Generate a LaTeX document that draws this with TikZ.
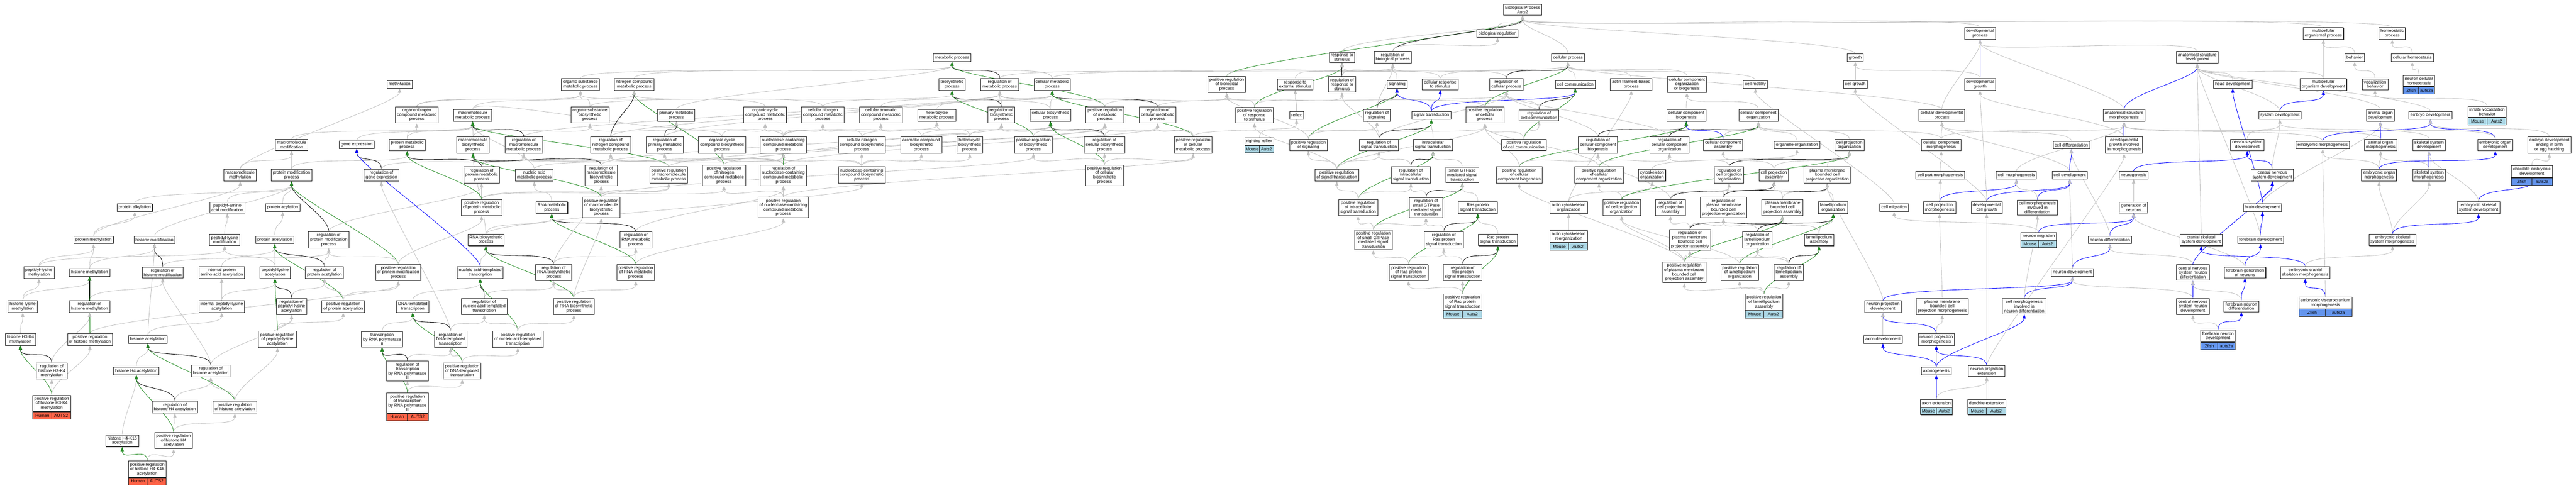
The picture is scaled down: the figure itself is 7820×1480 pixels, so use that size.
\documentclass[tikz,border=0pt]{standalone}
\usepackage{fontspec}
\newfontfamily\termfont{Liberation Sans}
\usepackage{tikz}
\usetikzlibrary{arrows.meta,shadows,backgrounds,calc}
\definecolor{isagray}{HTML}{C0C0C0}
\definecolor{posgreen}{HTML}{228B22}
\definecolor{partblue}{HTML}{0000FF}
\definecolor{human}{HTML}{FF6347}
\definecolor{mouse}{HTML}{ADD8E6}
\definecolor{zfish}{HTML}{6495ED}
\tikzset{term/.style={draw=black!85, fill=white, line width=1.3pt, align=center,
    font=\termfont\fontsize{13}{13.5}\selectfont, inner xsep=5pt, inner ysep=5pt,
    minimum height=23pt,
    drop shadow={shadow xshift=1pt, shadow yshift=-1pt, fill=black!70, opacity=1}},
  tagcell/.style={term, inner sep=0pt, minimum height=22pt},
  link/.style={line width=1.3pt, -{Triangle[length=13pt,width=10pt]},
    to path={.. controls ($(\tikztostart.north)+(0,-45)$) and ($(\tikztotarget.south)+(0,45)$) .. (\tikztotarget.south)}},
  isa/.style={link, draw=isagray},
  reg/.style={link, draw=black},
  posreg/.style={link, draw=posgreen},
  partof/.style={link, draw=partblue}}
% species / gene row under an annotated term
\newcommand\genetag[4]{%
  \path let \p1=(#1.south west), \p2=(#1.south east) in
    node[tagcell, fill=#4, minimum width={(\x2-\x1)/2}, anchor=north west] (#1-sp) at (\p1) {#2}
    node[tagcell, fill=#4, minimum width={(\x2-\x1)/2}, anchor=north east] (#1-gn) at (\p2) {#3};}

\begin{document}
\begin{tikzpicture}[x=1pt, y=-1pt]
\useasboundingbox (0,0) rectangle (7820,1480);
% top ranks
\node[term] (bp) at (4622,30) {Biological Process\\Auts2};
\node[term] (bioreg) at (4546,102) {biological regulation};
\node[term] (devproc) at (6011,101) {developmental\\process};
\node[term] (mcop) at (7053,101) {multicellular\\organismal process};
\node[term] (homeo) at (7262,101) {homeostatic\\process};
\node[term] (metab) at (2890,175) {metabolic process};
\node[term] (respstim) at (4074,174) {response to\\stimulus};
\node[term] (regbio) at (4228,174) {regulation of\\biological process};
\node[term] (cellproc) at (4760,175) {cellular process};
\node[term] (growth) at (5632,175) {growth};
\node[term] (asdev) at (6670,174) {anatomical structure\\development};
\node[term] (behav) at (7148,175) {behavior};
\node[term] (cellhomeo) at (7323,175) {cellular homeostasis};
% rank 256
\node[term] (methyl) at (1213,256) {methylation};
\node[term] (orgsubmet) at (1762,256) {organic substance\\metabolic process};
\node[term] (nitromet) at (1925,256) {nitrogen compound\\metabolic process};
\node[term] (biosyn) at (2890,256) {biosynthetic\\process};
\node[term] (regmet) at (3035,256) {regulation of\\metabolic process};
\node[term] (cellmet) at (3194,256) {cellular metabolic\\process};
\node[term] (posregbio) at (3724,256) {positive regulation\\of biological\\process};
\node[term] (respext) at (3932,256) {response to\\external stimulus};
\node[term] (regresp) at (4074,256) {regulation of\\response to\\stimulus};
\node[term] (signaling) at (4241,256) {signaling};
\node[term] (cellresp) at (4372,256) {cellular response\\to stimulus};
\node[term] (regcellproc) at (4573,256) {regulation of\\cellular process};
\node[term] (cellcomm) at (4782,256) {cell communication};
\node[term] (actinfil) at (4952,256) {actin filament-based\\process};
\node[term] (ccob) at (5121,256) {cellular component\\organization\\or biogenesis};
\node[term] (cellmot) at (5329,256) {cell motility};
\node[term] (cellgrowth) at (5632,256) {cell growth};
\node[term] (devgrowth) at (6011,256) {developmental\\growth};
\node[term] (headdev) at (6778,256) {head development};
\node[term] (mcodev) at (7053,256) {multicellular\\organism development};
\node[term] (vocal) at (7210,256) {vocalization\\behavior};
\node[term] (nch) at (7343,246) {neuron cellular\\homeostasis};
\genetag{nch}{Zfish}{auts2a}{zfish}
% rank 350
\node[term] (orgnitro) at (1265,349) {organonitrogen\\compound metabolic\\process};
\node[term] (macromet) at (1435,350) {macromolecule\\metabolic process};
\node[term] (orgsubbio) at (1791,349) {organic substance\\biosynthetic\\process};
\node[term] (primet) at (2053,350) {primary metabolic\\process};
\node[term] (occmet) at (2323,349) {organic cyclic\\compound metabolic\\process};
\node[term] (cnitromet) at (2498,349) {cellular nitrogen\\compound metabolic\\process};
\node[term] (caromet) at (2674,349) {cellular aromatic\\compound metabolic\\process};
\node[term] (hetmet) at (2844,350) {heterocycle\\metabolic process};
\node[term] (regbiosyn) at (3040,349) {regulation of\\biosynthetic\\process};
\node[term] (cellbiosyn) at (3189,350) {cellular biosynthetic\\process};
\node[term] (posregmet) at (3354,349) {positive regulation\\of metabolic\\process};
\node[term] (regcellmet) at (3514,349) {regulation of\\cellular metabolic\\process};
\node[term] (posregresp) at (3808,349) {positive regulation\\of response\\to stimulus};
\node[term] (reflex) at (3936,350) {reflex};
\node[term] (regsig) at (4180,350) {regulation of\\signaling};
\node[term] (sigtrans) at (4345,350) {signal transduction};
\node[term] (posregcellproc) at (4508,349) {positive regulation\\of cellular\\process};
\node[term] (regcellcomm) at (4672,350) {regulation of\\cell communication};
\node[term] (ccbio) at (5119,350) {cellular component\\biogenesis};
\node[term] (cco) at (5338,350) {cellular component\\organization};
\node[term] (celldev) at (5895,350) {cellular developmental\\process};
\node[term] (asmorph) at (6448,350) {anatomical structure\\morphogenesis};
\node[term] (sysdev) at (6921,350) {system development};
\node[term] (aodev) at (7226,350) {animal organ\\development};
\node[term] (embdev) at (7378,350) {embryo development};
\node[term] (ivb) at (7550,339) {innate vocalization\\behavior};
\genetag{ivb}{Mouse}{Auts2}{mouse}
% rank 440
\node[term] (macromod) at (885,440) {macromolecule\\modification};
\node[term] (geneexp) at (1083,439) {gene expression};
\node[term] (protmet) at (1236,440) {protein metabolic\\process};
\node[term] (macrobio) at (1436,440) {macromolecule\\biosynthetic\\process};
\node[term] (regmacromet) at (1590,440) {regulation of\\macromolecule\\metabolic process};
\node[term] (regnitromet) at (1854,440) {regulation of\\nitrogen compound\\metabolic process};
\node[term] (regprimet) at (2018,440) {regulation of\\primary metabolic\\process};
\node[term] (occbio) at (2192,440) {organic cyclic\\compound biosynthetic\\process};
\node[term] (nbcmet) at (2378,440) {nucleobase-containing\\compound metabolic\\process};
\node[term] (cnitrobio) at (2616,440) {cellular nitrogen\\compound biosynthetic\\process};
\node[term] (arombio) at (2797,440) {aromatic compound\\biosynthetic\\process};
\node[term] (hetbio) at (2944,440) {heterocycle\\biosynthetic\\process};
\node[term] (posregbiosyn) at (3137,440) {positive regulation\\of biosynthetic\\process};
\node[term] (regcellbio) at (3353,440) {regulation of\\cellular biosynthetic\\process};
\node[term] (posregcellmet) at (3622,440) {positive regulation\\of cellular\\metabolic process};
\node[term] (rr) at (3823,429) {righting reflex};
\genetag{rr}{Mouse}{Auts2}{mouse}
\node[term] (posregsig) at (3972,440) {positive regulation\\of signaling};
\node[term] (regst) at (4186,440) {regulation of\\signal transduction};
\node[term] (ist) at (4350,440) {intracellular\\signal transduction};
\node[term] (posregcellcomm) at (4626,440) {positive regulation\\of cell communication};
\node[term] (regccb) at (4851,440) {regulation of\\cellular component\\biogenesis};
\node[term] (regcco) at (5068,440) {regulation of\\cellular component\\organization};
\node[term] (cca) at (5231,440) {cellular component\\assembly};
\node[term] (organelle) at (5455,440) {organelle organization};
\node[term] (cpo) at (5614,440) {cell projection\\organization};
\node[term] (ccmorph) at (5893,440) {cellular component\\morphogenesis};
\node[term] (celldiff) at (6288,440) {cell differentiation};
\node[term] (dgim) at (6448,440) {developmental\\growth involved\\in morphogenesis};
\node[term] (nsdev) at (6822,440) {nervous system\\development};
\node[term] (embmorph) at (7051,440) {embryonic morphogenesis};
\node[term] (aomorph) at (7227,440) {animal organ\\morphogenesis};
\node[term] (skeldev) at (7374,440) {skeletal system\\development};
\node[term] (eodev) at (7575,440) {embryonic organ\\development};
\node[term] (edeb) at (7739,440) {embryo development\\ending in birth\\or egg hatching};
% rank 532
\node[term] (macromethyl) at (729,532) {macromolecule\\methylation};
\node[term] (protmod) at (885,532) {protein modification\\process};
\node[term] (reggeneexp) at (1158,532) {regulation of\\gene expression};
\node[term] (regprotmet) at (1462,531) {regulation of\\protein metabolic\\process};
\node[term] (nucmet) at (1622,532) {nucleic acid\\metabolic process};
\node[term] (regmacrobio) at (1825,532) {regulation of\\macromolecule\\biosynthetic\\process};
\node[term] (posregmacromet) at (2030,531) {positive regulation\\of macromolecule\\metabolic process};
\node[term] (posregnitromet) at (2198,532) {positive regulation\\of nitrogen\\compound metabolic\\process};
\node[term] (regnbcmet) at (2378,532) {regulation of\\nucleobase-containing\\compound metabolic\\process};
\node[term] (nbcbio) at (2616,531) {nucleobase-containing\\compound biosynthetic\\process};
\node[term] (posregcellbio) at (3353,532) {positive regulation\\of cellular\\biosynthetic\\process};
\node[term] (posregst) at (4058,532) {positive regulation\\of signal transduction};
\node[term] (regist) at (4283,531) {regulation of\\intracellular\\signal transduction};
\node[term] (sgtpase) at (4439,531) {small GTPase\\mediated signal\\transduction};
\node[term] (posregccb) at (4612,531) {positive regulation\\of cellular\\component biogenesis};
\node[term] (posregcco) at (4854,531) {positive regulation\\of cellular\\component organization};
\node[term] (cytoorg) at (5015,532) {cytoskeleton\\organization};
\node[term] (regcpo) at (5249,531) {regulation of\\cell projection\\organization};
\node[term] (cpa) at (5385,532) {cell projection\\assembly};
\node[term] (pmbcpo) at (5547,531) {plasma membrane\\bounded cell\\projection organization};
\node[term] (cpm) at (5890,532) {cell part morphogenesis};
\node[term] (cellmorph) at (6121,532) {cell morphogenesis};
\node[term] (celldevt) at (6283,532) {cell development};
\node[term] (neurogen) at (6477,532) {neurogenesis};
\node[term] (cnsdev) at (6898,532) {central nervous\\system development};
\node[term] (eomorph) at (7222,532) {embryonic organ\\morphogenesis};
\node[term] (skelmorph) at (7374,532) {skeletal system\\morphogenesis};
\node[term] (ced) at (7686,521) {chordate embryonic\\development};
\genetag{ced}{Zfish}{auts2a}{zfish}
% rank 630
\node[term] (protalk) at (409,630) {protein alkylation};
\node[term] (pepaa) at (690,630) {peptidyl-amino\\acid modification};
\node[term] (protacyl) at (858,630) {protein acylation};
\node[term] (posregprotmet) at (1462,630) {positive regulation\\of protein metabolic\\process};
\node[term] (rnamet) at (1675,630) {RNA metabolic\\process};
\node[term] (posregmacrobio) at (1825,630) {positive regulation\\of macromolecule\\biosynthetic\\process};
\node[term] (posregnbcmet) at (2378,630) {positive regulation\\of nucleobase-containing\\compound metabolic\\process};
\node[term] (posregist) at (4123,630) {positive regulation\\of intracellular\\signal transduction};
\node[term] (regsgtpase) at (4329,630) {regulation of\\small GTPase\\mediated signal\\transduction};
\node[term] (ras) at (4486,630) {Ras protein\\signal transduction};
\node[term] (actinorg) at (4762,630) {actin cytoskeleton\\organization};
\node[term] (posregcpo) at (4923,630) {positive regulation\\of cell projection\\organization};
\node[term] (regcpa) at (5071,630) {regulation of\\cell projection\\assembly};
\node[term] (regpmbcpo) at (5232,630) {regulation of\\plasma membrane\\bounded cell\\projection organization};
\node[term] (pmbcpa) at (5411,630) {plasma membrane\\bounded cell\\projection assembly};
\node[term] (lamorg) at (5565,630) {lamellipodium\\organization};
\node[term] (cellmig) at (5750,630) {cell migration};
\node[term] (cpmorph) at (5888,630) {cell projection\\morphogenesis};
\node[term] (devcellgrowth) at (6031,630) {developmental\\cell growth};
\node[term] (cmid) at (6185,630) {cell morphogenesis\\involved in\\differentiation};
\node[term] (genneur) at (6477,630) {generation of\\neurons};
\node[term] (braindev) at (6868,630) {brain development};
\node[term] (essdev) at (7524,630) {embryonic skeletal\\system development};
% rank 728
\node[term] (protmethyl) at (284,728) {protein methylation};
\node[term] (histmod) at (469,728) {histone modification};
\node[term] (peplysmod) at (682,728) {peptidyl-lysine\\modification};
\node[term] (protacet) at (834,728) {protein acetylation};
\node[term] (regprotmod) at (998,728) {regulation of\\protein modification\\process};
\node[term] (rnabio) at (1475,728) {RNA biosynthetic\\process};
\node[term] (regrnamet) at (1930,728) {regulation of\\RNA metabolic\\process};
\node[term] (posregsgtpase) at (4169,728) {positive regulation\\of small GTPase\\mediated signal\\transduction};
\node[term] (regras) at (4383,728) {regulation of\\Ras protein\\signal transduction};
\node[term] (rac) at (4547,728) {Rac protein\\signal transduction};
\node[term] (acr) at (4762,718) {actin cytoskeleton\\reorganization};
\genetag{acr}{Mouse}{Auts2}{mouse}
\node[term] (regpmbcpa) at (5130,728) {regulation of\\plasma membrane\\bounded cell\\projection assembly};
\node[term] (reglamorg) at (5335,728) {regulation of\\lamellipodium\\organization};
\node[term] (lamasm) at (5522,728) {lamellipodium\\assembly};
\node[term] (neurmig) at (6189,717) {neuron migration};
\genetag{neurmig}{Mouse}{Auts2}{mouse}
\node[term] (neurdiff) at (6405,728) {neuron differentiation};
\node[term] (cssd) at (6682,728) {cranial skeletal\\system development};
\node[term] (forebrain) at (6862,728) {forebrain development};
\node[term] (essm) at (7263,728) {embryonic skeletal\\system morphogenesis};
% rank 827
\node[term] (peplysmethyl) at (118,827) {peptidyl-lysine\\methylation};
\node[term] (histmethyl) at (272,827) {histone methylation};
\node[term] (reghistmod) at (494,827) {regulation of\\histone modification};
\node[term] (ipaaa) at (673,827) {internal protein\\amino acid acetylation};
\node[term] (peplysacet) at (835,827) {peptidyl-lysine\\acetylation};
\node[term] (regprotacet) at (985,827) {regulation of\\protein acetylation};
\node[term] (posregprotmod) at (1209,827) {positive regulation\\of protein modification\\process};
\node[term] (nat) at (1458,827) {nucleic acid-templated\\transcription};
\node[term] (regrnabio) at (1681,827) {regulation of\\RNA biosynthetic\\process};
\node[term] (posregrnamet) at (1930,827) {positive regulation\\of RNA metabolic\\process};
\node[term] (posregras) at (4276,827) {positive regulation\\of Ras protein\\signal transduction};
\node[term] (regrac) at (4440,827) {regulation of\\Rac protein\\signal transduction};
\node[term] (posregpmbcpa) at (5113,827) {positive regulation\\of plasma membrane\\bounded cell\\projection assembly};
\node[term] (posreglamorg) at (5281,827) {positive regulation\\of lamellipodium\\organization};
\node[term] (reglamasm) at (5430,827) {regulation of\\lamellipodium\\assembly};
\node[term] (neurdev) at (6291,827) {neuron development};
\node[term] (cnsnd) at (6657,827) {central nervous\\system neuron\\differentiation};
\node[term] (fgn) at (6815,827) {forebrain generation\\of neurons};
\node[term] (ecsm) at (6998,827) {embryonic cranial\\skeleton morphogenesis};
% rank 930
\node[term] (histlysmethyl) at (69,930) {histone lysine\\methylation};
\node[term] (reghistmethyl) at (272,930) {regulation of\\histone methylation};
\node[term] (iplacet) at (673,930) {internal peptidyl-lysine\\acetylation};
\node[term] (regpeplysacet) at (885,930) {regulation of\\peptidyl-lysine\\acetylation};
\node[term] (posregprotacet) at (1042,930) {positive regulation\\of protein acetylation};
\node[term] (dnatt) at (1253,930) {DNA-templated\\transcription};
\node[term] (regnat) at (1470,930) {regulation of\\nucleic acid-templated\\transcription};
\node[term] (posregrnabio) at (1742,930) {positive regulation\\of RNA biosynthetic\\process};
\node[term] (posregrac) at (4440,917) {positive regulation\\of Rac protein\\signal transduction};
\genetag{posregrac}{Mouse}{Auts2}{mouse}
\node[term] (posreglamasm) at (5355,917) {positive regulation\\of lamellipodium\\assembly};
\genetag{posreglamasm}{Mouse}{Auts2}{mouse}
\node[term] (npd) at (5716,930) {neuron projection\\development};
\node[term] (pmbcpm) at (5896,930) {plasma membrane\\bounded cell\\projection morphogenesis};
\node[term] (cmind) at (6145,930) {cell morphogenesis\\involved in\\neuron differentiation};
\node[term] (cnsndev) at (6657,930) {central nervous\\system neuron\\development};
\node[term] (fnd) at (6804,930) {forebrain neuron\\differentiation};
\node[term] (evm) at (7059,919) {embryonic viscerocranium\\morphogenesis};
\genetag{evm}{Zfish}{auts2a}{zfish}
% rank 1030
\node[term] (h3k4) at (62,1030) {histone H3-K4\\methylation};
\node[term] (posreghistmethyl) at (273,1030) {positive regulation\\of histone methylation};
\node[term] (histacet) at (449,1030) {histone acetylation};
\node[term] (posregpeplysacet) at (842,1030) {positive regulation\\of peptidyl-lysine\\acetylation};
\node[term] (trnap) at (1160,1030) {transcription\\by RNA polymerase\\II};
\node[term] (regdnatt) at (1368,1030) {regulation of\\DNA-templated\\transcription};
\node[term] (posregnat) at (1572,1030) {positive regulation\\of nucleic acid-templated\\transcription};
\node[term] (axondev) at (5716,1030) {axon development};
\node[term] (npm) at (5878,1030) {neuron projection\\morphogenesis};
\node[term] (fndev) at (6733,1020) {forebrain neuron\\development};
\genetag{fndev}{Zfish}{auts2a}{zfish}
% rank 1126
\node[term] (reghk4) at (157,1126) {regulation of\\histone H3-K4\\methylation};
\node[term] (h4acet) at (414,1126) {histone H4 acetylation};
\node[term] (reghistacet) at (640,1126) {regulation of\\histone acetylation};
\node[term] (regtrnap) at (1237,1126) {regulation of\\transcription\\by RNA polymerase\\II};
\node[term] (posregdnatt) at (1403,1126) {positive regulation\\of DNA-templated\\transcription};
\node[term] (axonogen) at (5878,1126) {axonogenesis};
\node[term] (npe) at (6031,1126) {neuron projection\\extension};
% rank 1236 and below
\node[term] (posreghk4) at (157,1224) {positive regulation\\of histone H3-K4\\methylation};
\genetag{posreghk4}{Human}{AUTS2}{human}
\node[term] (regh4acet) at (531,1236) {regulation of\\histone H4 acetylation};
\node[term] (posreghistacet) at (713,1236) {positive regulation\\of histone acetylation};
\node[term] (posregtrnap) at (1237,1223) {positive regulation\\of transcription\\by RNA polymerase\\II};
\genetag{posregtrnap}{Human}{AUTS2}{human}
\node[term] (axonext) at (5878,1224) {axon extension};
\genetag{axonext}{Mouse}{Auts2}{mouse}
\node[term] (dendext) at (6031,1224) {dendrite extension};
\genetag{dendext}{Mouse}{Auts2}{mouse}
\node[term] (h4k16) at (371,1338) {histone H4-K16\\acetylation};
\node[term] (posregh4acet) at (527,1337) {positive regulation\\of histone H4\\acetylation};
\node[term] (posregh4k16) at (447,1424) {positive regulation\\of histone H4-K16\\acetylation};
\genetag{posregh4k16}{Human}{AUTS2}{human}

\begin{scope}[on background layer]
% histone terms
\path (protmethyl) edge[isa] (protalk) edge[isa] (macromethyl);
\path (histmod) edge[isa] (protmod);
\path (peplysmethyl) edge[isa] (protmethyl) edge[isa] (peplysmod);
\path (histmethyl) edge[isa] (protmethyl) edge[isa] (histmod);
\path (reghistmod) edge[reg] (histmod) edge[isa] (regprotmod);
\path (histlysmethyl) edge[isa] (peplysmethyl) edge[isa] (histmethyl);
\path (reghistmethyl) edge[reg, line width=2.5pt] (histmethyl) edge[isa] (reghistmod);
\path (h3k4) edge[isa] (histlysmethyl);
\path (posreghistmethyl) edge[isa] (reghistmethyl) edge[posreg] (histmethyl) edge[isa] (posregprotmod);
\path (histacet) edge[isa] (histmod) edge[isa] (iplacet);
\path (reghk4) edge[reg] (h3k4) edge[isa] (reghistmethyl);
\path (h4acet) edge[isa] (histacet);
\path (reghistacet) edge[reg] (histacet) edge[isa] (reghistmod) edge[isa] (regpeplysacet);
\path (posreghk4) edge[isa] (reghk4) edge[posreg] (h3k4) edge[isa] (posreghistmethyl);
\path (regh4acet) edge[reg] (h4acet) edge[isa] (reghistacet);
\path (posreghistacet) edge[posreg] (histacet) edge[isa] (reghistacet) edge[isa] (posregpeplysacet);
\path (h4k16) edge[isa] (h4acet);
\path (posregh4acet) edge[isa] (regh4acet) edge[posreg] (h4acet) edge[isa] (posreghistacet);
\path (posregh4k16) edge[posreg] (h4k16) edge[isa] (posregh4acet);
% protein terms
\path (macromethyl) edge[isa] (methyl) edge[isa] (macromod);
\path (protmod) edge[isa] (macromod) edge[isa] (protmet);
\path (macromod) edge[isa] (macromet);
\path (pepaa) edge[isa] (protmod);
\path (protalk) edge[isa] (protmod);
\path (protacyl) edge[isa] (protmod);
\path (peplysmod) edge[isa] (pepaa);
\path (protacet) edge[isa] (protacyl);
\path (regprotmod) edge[reg] (protmod) edge[isa] (regprotmet);
\path (posregprotmod) edge[posreg] (protmod) edge[isa] (regprotmod) edge[isa] (posregprotmet);
\path (ipaaa) edge[isa] (protacet);
\path (peplysacet) edge[isa] (protacet) edge[isa] (peplysmod);
\path (regprotacet) edge[reg] (protacet) edge[isa] (regprotmod);
\path (iplacet) edge[isa] (ipaaa) edge[isa] (peplysacet);
\path (regpeplysacet) edge[reg] (peplysacet) edge[isa] (regprotacet);
\path (posregprotacet) edge[posreg] (protacet) edge[isa] (regprotacet) edge[isa] (posregprotmod);
\path (posregpeplysacet) edge[isa] (regpeplysacet) edge[posreg] (peplysacet) edge[isa] (posregprotacet);
\path (geneexp) edge[isa] (macromet);
\path (reggeneexp) edge[reg] (geneexp) edge[isa] (regmacromet);
\path (protmet) edge[isa] (orgnitro) edge[isa] (macromet);
\path (orgnitro) edge[isa] (orgsubmet) edge[isa] (nitromet);
% transcription terms
\path (dnatt) edge[isa] (nat);
\path (trnap) edge[isa] (dnatt);
\path (regtrnap) edge[reg] (trnap) edge[isa] (regdnatt);
\path (posregtrnap) edge[isa] (regtrnap) edge[posreg] (trnap) edge[isa] (posregdnatt);
\path (regdnatt) edge[reg] (dnatt) edge[isa] (regnat) edge[isa] (reggeneexp);
\path (posregdnatt) edge[isa] (regdnatt) edge[posreg] (dnatt) edge[isa] (posregnat);
\path (nat) edge[isa] (rnabio) edge[partof] (geneexp);
\path (regnat) edge[reg] (nat) edge[isa] (regrnabio);
\path (posregnat) edge[posreg] (nat) edge[isa] (regnat) edge[isa] (posregrnabio);
\path (rnabio) edge[isa] (rnamet) edge[isa] (macrobio) edge[isa] (nbcbio);
\path (regrnabio) edge[reg] (rnabio) edge[isa] (regrnamet) edge[isa] (regmacrobio);
\path (posregrnabio) edge[posreg] (rnabio) edge[isa] (regrnabio) edge[isa] (posregmacrobio) edge[isa] (posregrnamet);
\path (rnamet) edge[isa] (nucmet);
\path (regrnamet) edge[reg] (rnamet) edge[isa] (regnbcmet);
\path (posregrnamet) edge[posreg] (rnamet) edge[isa] (regrnamet) edge[isa] (posregnbcmet);
\path (nucmet) edge[isa] (nbcmet) edge[isa] (macromet);
% metabolic terms
\path (macromet) edge[isa] (orgsubmet) edge[isa] (primet);
\path (macrobio) edge[isa] (macromet) edge[isa] (orgsubbio);
\path (orgsubbio) edge[isa] (orgsubmet) edge[isa] (biosyn);
\path (orgsubmet) edge[isa] (metab);
\path (nitromet) edge[isa] (metab);
\path (primet) edge[isa] (metab);
\path (regmacromet) edge[reg] (macromet) edge[isa] (regmet);
\path (regnitromet) edge[reg] (nitromet) edge[isa] (regmet);
\path (regprimet) edge[reg] (primet) edge[isa] (regmet);
\path (regprotmet) edge[reg] (protmet) edge[isa] (regmacromet) edge[isa] (regnitromet);
\path (posregprotmet) edge[isa] (regprotmet) edge[posreg] (protmet) edge[isa] (posregmacromet) edge[isa] (posregnitromet);
\path (regmacrobio) edge[reg] (macrobio) edge[isa] (regmacromet) edge[isa] (regbiosyn);
\path (posregmacrobio) edge[posreg] (macrobio) edge[isa] (regmacrobio) edge[isa] (posregmacromet) edge[isa] (posregbiosyn);
\path (posregmacromet) edge[posreg] (macromet) edge[isa] (regmacromet) edge[isa] (posregmet);
\path (posregnitromet) edge[posreg] (nitromet) edge[isa] (regnitromet) edge[isa] (posregmet);
\path (occmet) edge[isa] (orgsubmet);
\path (cnitromet) edge[isa] (nitromet) edge[isa] (cellmet);
\path (caromet) edge[isa] (cellmet);
\path (hetmet) edge[isa] (cellmet);
\path (nbcmet) edge[isa] (occmet) edge[isa] (cnitromet) edge[isa] (caromet) edge[isa] (hetmet) edge[isa] (primet);
\path (regnbcmet) edge[reg] (nbcmet) edge[isa] (regnitromet) edge[isa] (regprimet) edge[isa] (regcellmet);
\path (posregnbcmet) edge[posreg] (nbcmet) edge[isa] (regnbcmet) edge[isa] (posregnitromet) edge[isa] (posregcellmet);
\path (occbio) edge[isa] (occmet) edge[isa] (orgsubbio);
\path (cnitrobio) edge[isa] (cnitromet) edge[isa] (cellbiosyn);
\path (arombio) edge[isa] (caromet) edge[isa] (cellbiosyn);
\path (hetbio) edge[isa] (hetmet) edge[isa] (cellbiosyn) edge[isa] (occbio);
\path (nbcbio) edge[isa] (nbcmet) edge[isa] (cnitrobio) edge[isa] (arombio) edge[isa] (hetbio) edge[isa] (occbio);
\path (biosyn) edge[isa] (metab);
\path (regmet) edge[reg] (metab) edge[isa] (regbio);
\path (cellmet) edge[isa] (metab) edge[isa] (cellproc);
\path (regbiosyn) edge[reg] (biosyn) edge[isa] (regmet);
\path (cellbiosyn) edge[isa] (cellmet) edge[isa] (biosyn);
\path (posregbiosyn) edge[posreg] (biosyn) edge[isa] (regbiosyn) edge[isa] (posregmet);
\path (posregmet) edge[posreg] (metab) edge[isa] (regmet) edge[isa] (posregbio);
\path (regcellmet) edge[reg] (cellmet) edge[isa] (regmet) edge[isa] (regcellproc);
\path (posregcellmet) edge[posreg] (cellmet) edge[isa] (posregmet) edge[isa] (regcellmet) edge[isa] (posregcellproc);
\path (regcellbio) edge[reg] (cellbiosyn) edge[isa] (regcellmet) edge[isa] (regbiosyn);
\path (posregcellbio) edge[posreg] (cellbiosyn) edge[isa] (regcellbio) edge[isa] (posregcellmet) edge[isa] (posregbiosyn);
% response and signalling terms
\path (posregbio) edge[posreg] (bp) edge[isa] (regbio);
\path (posregresp) edge[isa] (posregbio) edge[posreg] (respstim) edge[isa] (regresp);
\path (rr) edge[isa] (reflex);
\path (reflex) edge[isa] (respext);
\path (respext) edge[isa] (respstim);
\path (respstim) edge[isa] (bp);
\path (regbio) edge[reg] (bp) edge[isa] (bioreg);
\path (bioreg) edge[isa] (bp);
\path (regresp) edge[reg] (respstim) edge[isa] (regbio);
\path (signaling) edge[isa] (regbio);
\path (regsig) edge[reg] (signaling) edge[isa] (regbio);
\path (posregsig) edge[posreg] (signaling) edge[isa] (regsig) edge[isa] (posregbio);
\path (sigtrans) edge[partof] (signaling) edge[partof] (cellresp) edge[partof] (cellcomm);
\path (cellresp) edge[isa] (respstim) edge[isa] (cellproc);
\path (regst) edge[reg] (sigtrans) edge[isa] (regsig) edge[isa] (regresp) edge[isa] (regcellproc);
\path (ist) edge[isa] (sigtrans);
\path (posregst) edge[posreg] (sigtrans) edge[isa] (regst) edge[isa] (posregsig) edge[isa] (posregresp) edge[isa] (posregcellproc);
\path (regist) edge[reg] (ist) edge[isa] (regst);
\path (posregist) edge[posreg] (ist) edge[isa] (regist) edge[isa] (posregst);
\path (sgtpase) edge[isa] (ist);
\path (regsgtpase) edge[reg] (sgtpase) edge[isa] (regist);
\path (posregsgtpase) edge[posreg] (sgtpase) edge[isa] (regsgtpase) edge[isa] (posregist);
\path (ras) edge[isa] (sgtpase);
\path (rac) edge[isa] (ras);
\path (regras) edge[reg] (ras) edge[isa] (regsgtpase);
\path (posregras) edge[posreg] (ras) edge[isa] (regras) edge[isa] (posregsgtpase);
\path (regrac) edge[reg] (rac) edge[isa] (regras);
\path (posregrac) edge[isa] (regrac) edge[posreg] (rac) edge[isa] (posregras);
% cellular process terms
\path (posregcellproc) edge[posreg] (cellproc) edge[isa] (regcellproc) edge[isa] (posregbio);
\path (regcellproc) edge[reg] (cellproc) edge[isa] (regbio);
\path (cellproc) edge[isa] (bp);
\path (cellcomm) edge[isa] (cellproc);
\path (actinfil) edge[isa] (cellproc);
\path (ccob) edge[isa] (cellproc);
\path (ccbio) edge[isa] (ccob);
\path (cco) edge[isa] (ccob);
\path (regcellcomm) edge[reg] (cellcomm) edge[isa] (regcellproc);
\path (posregcellcomm) edge[posreg] (cellcomm) edge[isa] (regcellcomm) edge[isa] (posregcellproc);
\path (regccb) edge[reg] (ccbio) edge[isa] (regcellproc);
\path (regcco) edge[reg] (cco) edge[isa] (regcellproc);
\path (cca) edge[partof] (ccbio) edge[isa] (cco);
\path (posregccb) edge[posreg] (ccbio) edge[isa] (regccb) edge[isa] (posregcellproc);
\path (posregcco) edge[posreg] (cco) edge[isa] (regcco) edge[isa] (posregcellproc);
\path (cytoorg) edge[isa] (organelle);
\path (organelle) edge[isa] (cco);
\path (actinorg) edge[isa] (cytoorg) edge[isa] (actinfil);
\path (acr) edge[isa] (actinorg);
\path (cpo) edge[isa] (cco);
\path (regcpo) edge[reg] (cpo) edge[isa] (regcco);
\path (posregcpo) edge[isa] (posregcco) edge[isa] (regcpo) edge[posreg] (cpo);
\path (cpa) edge[isa] (cca) edge[isa] (cpo);
\path (regcpa) edge[reg] (cpa) edge[isa] (regccb) edge[isa] (regcpo);
\path (pmbcpo) edge[isa] (cpo);
\path (regpmbcpo) edge[reg] (pmbcpo) edge[isa] (regcpo);
\path (pmbcpa) edge[isa] (cpa) edge[isa] (pmbcpo);
\path (regpmbcpa) edge[reg] (pmbcpa) edge[isa] (regcpa) edge[isa] (regpmbcpo);
\path (posregpmbcpa) edge[posreg] (pmbcpa) edge[isa] (regpmbcpa) edge[isa] (posregccb) edge[isa] (posregcpo);
\path (lamorg) edge[isa] (pmbcpo);
\path (lamasm) edge[isa] (lamorg) edge[isa] (pmbcpa);
\path (reglamorg) edge[reg] (lamorg) edge[isa] (regpmbcpo);
\path (posreglamorg) edge[posreg] (lamorg) edge[isa] (reglamorg) edge[isa] (posregcpo);
\path (reglamasm) edge[reg] (lamasm) edge[isa] (reglamorg) edge[isa] (regpmbcpa);
\path (posreglamasm) edge[isa] (posreglamorg) edge[isa] (reglamasm) edge[posreg] (lamasm) edge[isa] (posregpmbcpa);
\path (cellmot) edge[isa] (cellproc);
\path (cellmig) edge[isa] (cellmot);
\path (cellgrowth) edge[isa] (growth);
\path (growth) edge[isa] (bp);
% developmental terms
\path (devproc) edge[isa] (bp);
\path (devgrowth) edge[partof] (devproc) edge[isa] (growth);
\path (celldev) edge[isa] (devproc) edge[isa] (cellproc);
\path (asmorph) edge[isa] (devproc) edge[partof] (asdev);
\path (ccmorph) edge[isa] (celldev) edge[isa] (asmorph) edge[isa] (cco);
\path (celldiff) edge[isa] (celldev);
\path (dgim) edge[partof] (asmorph) edge[isa] (devgrowth);
\path (cpm) edge[isa] (ccmorph);
\path (cellmorph) edge[isa] (asmorph);
\path (celldevt) edge[partof] (celldiff) edge[isa] (celldev);
\path (neurogen) edge[partof] (nsdev);
\path (cpmorph) edge[isa] (cpm) edge[partof] (cellmorph);
\path (devcellgrowth) edge[isa] (devgrowth) edge[partof] (celldevt) edge[isa] (cellgrowth);
\path (cmid) edge[isa] (cellmorph) edge[partof] (celldevt);
\path (genneur) edge[isa] (neurogen);
\path (neurmig) edge[partof] (genneur) edge[isa] (cellmig);
\path (neurdiff) edge[partof] (genneur) edge[isa] (celldiff);
\path (neurdev) edge[partof] (neurdiff) edge[isa] (celldevt);
\path (npd) edge[partof] (neurdev) edge[isa] (pmbcpo);
\path (pmbcpm) edge[isa] (cpmorph);
\path (cmind) edge[partof] (neurdev) edge[isa] (cmid);
\path (npm) edge[isa] (pmbcpm) edge[partof] (npd);
\path (axondev) edge[isa] (npd);
\path (axonogen) edge[partof] (axondev) edge[isa] (npm) edge[partof] (cmind);
\path (npe) edge[partof] (npm) edge[isa] (devcellgrowth) edge[isa] (dgim);
\path (axonext) edge[partof] (axonogen) edge[isa] (npe);
\path (dendext) edge[isa] (npe);
\path (asdev) edge[isa] (devproc);
\path (headdev) edge[isa] (asdev);
\path (mcodev) edge[isa] (mcop) edge[isa] (asdev);
\path (mcop) edge[isa] (bp);
\path (behav) edge[isa] (mcop);
\path (homeo) edge[isa] (bp);
\path (cellhomeo) edge[isa] (homeo);
\path (nch) edge[isa] (cellhomeo);
\path (vocal) edge[isa] (behav);
\path (ivb) edge[isa] (vocal);
\path (sysdev) edge[partof] (mcodev) edge[isa] (asdev);
\path (nsdev) edge[isa] (sysdev);
\path (cnsdev) edge[partof] (nsdev) edge[isa] (sysdev);
\path (braindev) edge[partof] (cnsdev) edge[partof] (headdev) edge[isa] (aodev);
\path (forebrain) edge[partof] (braindev) edge[isa] (asdev);
\path (cssd) edge[isa] (asdev);
\path (ecsm) edge[partof] (cssd) edge[isa] (essm);
\path (cnsnd) edge[isa] (neurdiff) edge[partof] (cnsdev);
\path (fgn) edge[partof] (forebrain) edge[isa] (genneur);
\path (cnsndev) edge[partof] (cnsnd) edge[isa] (neurdev);
\path (fnd) edge[partof] (fgn) edge[isa] (cnsnd);
\path (fndev) edge[isa] (cnsndev) edge[partof] (fnd);
\path (evm) edge[partof] (ecsm) edge[isa] (embmorph);
\path (embmorph) edge[isa] (asmorph) edge[partof] (embdev);
\path (aodev) edge[isa] (asdev);
\path (aomorph) edge[partof] (aodev) edge[isa] (asmorph);
\path (embdev) edge[isa] (asdev);
\path (eodev) edge[partof] (embdev) edge[isa] (aodev);
\path (edeb) edge[isa] (embdev);
\path (ced) edge[isa] (edeb);
\path (skeldev) edge[isa] (sysdev);
\path (skelmorph) edge[partof] (skeldev) edge[isa] (aomorph);
\path (eomorph) edge[isa] (aomorph) edge[partof] (eodev) edge[isa] (embmorph);
\path (essdev) edge[partof] (ced) edge[isa] (skeldev);
\path (essm) edge[isa] (eomorph) edge[isa] (skelmorph) edge[partof] (essdev);
\end{scope}
\end{tikzpicture}
\end{document}
